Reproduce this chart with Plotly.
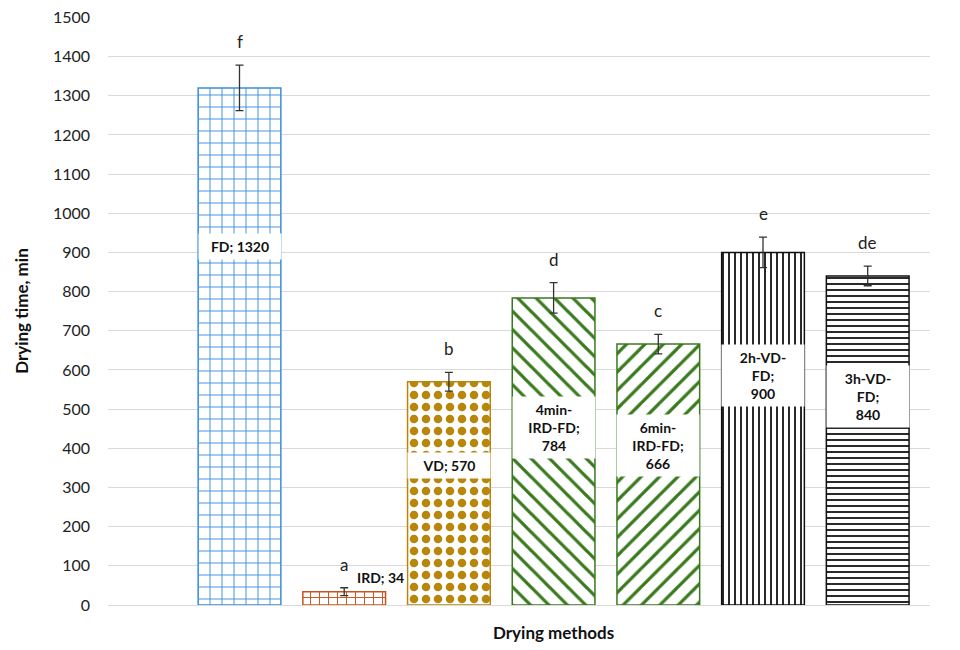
import plotly.graph_objects as go

methods = ["FD", "IRD", "VD", "4min-IRD-FD", "6min-IRD-FD", "2h-VD-FD", "3h-VD-FD"]
times = [1320, 34, 570, 784, 666, 900, 840]
errors = [58, 10, 24, 39, 25, 39, 25]
letters = ["f", "a", "b", "d", "c", "e", "de"]
label_texts = ["FD; 1320", "IRD; 34", "VD; 570", "4min-<br>IRD-FD;<br>784",
               "6min-<br>IRD-FD;<br>666", "2h-VD-<br>FD;<br>900", "3h-VD-<br>FD;<br>840"]
y_ticks = list(range(0, 1501, 100))

colors = ["#3b8ddd", "#c8531a", "#b8860b", "#3a7a1e", "#3a7a1e", "#111111", "#111111"]
shapes_ = ["+", "+", ".", "\\", "/", "|", "-"]
sizes = [12, 9, 12, 13, 13, 6, 6]
solid = [0.15, 0.2, 0.4, 0.25, 0.25, 0.3, 0.3]
label_pos = [914, 71, 355, 452, 406, 586, 533]

FONT = "Lato"
x = list(range(len(methods)))

fig = go.Figure()
fig.add_trace(go.Bar(
    x=x, y=times, width=0.79,
    marker=dict(color="white", line=dict(color=colors, width=1.5),
                pattern=dict(shape=shapes_, fgcolor=colors, bgcolor="white",
                             size=sizes, solidity=solid, fillmode="replace")),
    error_y=dict(type="data", array=errors, color="#333333", thickness=1.3, width=4),
    showlegend=False, hoverinfo="skip",
))

anns = []
for i in range(len(methods)):
    anns.append(dict(x=i, y=times[i] + errors[i] + 60, text=letters[i], showarrow=False,
                     font=dict(family=FONT, size=17, color="#222"), yanchor="middle"))
    if i == 1:
        anns.append(dict(x=i + 0.35, y=label_pos[i], text=label_texts[i], showarrow=False,
                         font=dict(family=FONT, size=14, color="#111", weight="bold"),
                         bgcolor="white", borderpad=2, yanchor="middle"))
    else:
        anns.append(dict(x=i, y=label_pos[i], text=label_texts[i], showarrow=False,
                         font=dict(family=FONT, size=14, color="#111", weight="bold"),
                         bgcolor="white", borderpad=4, width=74, align="center",
                         yanchor="middle"))
anns.append(dict(x=3, y=-0.047, yref="paper", text="<b>Drying methods</b>",
                 showarrow=False, font=dict(family=FONT, size=17, color="#111"),
                 yanchor="middle"))
anns.append(dict(x=-0.106, xref="paper", y=0.5, yref="paper", text="<b>Drying time, min</b>",
                 textangle=-90, showarrow=False, font=dict(family=FONT, size=17, color="#111"),
                 xanchor="center", yanchor="middle"))

fig.update_layout(
    width=960, height=650,
    margin=dict(l=100, r=38, t=9, b=53, autoexpand=False),
    paper_bgcolor="white", plot_bgcolor="white",
    annotations=anns,
    xaxis=dict(range=[-1.256, 6.595], showticklabels=False, showgrid=False,
               zeroline=False, showline=False, fixedrange=True, automargin=False),
    yaxis=dict(range=[0, 1501], tickmode="array", tickvals=y_ticks,
               ticktext=[str(v) for v in y_ticks], showgrid=True, gridcolor="#d9d9d9",
               gridwidth=1.3, zeroline=True, zerolinecolor="#d9d9d9", zerolinewidth=1.3,
               tickfont=dict(family=FONT, size=16, color="#222"),
               ticklabeloverflow="allow",
               ticklabelstandoff=17, automargin=False),
)

fig.write_html("out.html")
